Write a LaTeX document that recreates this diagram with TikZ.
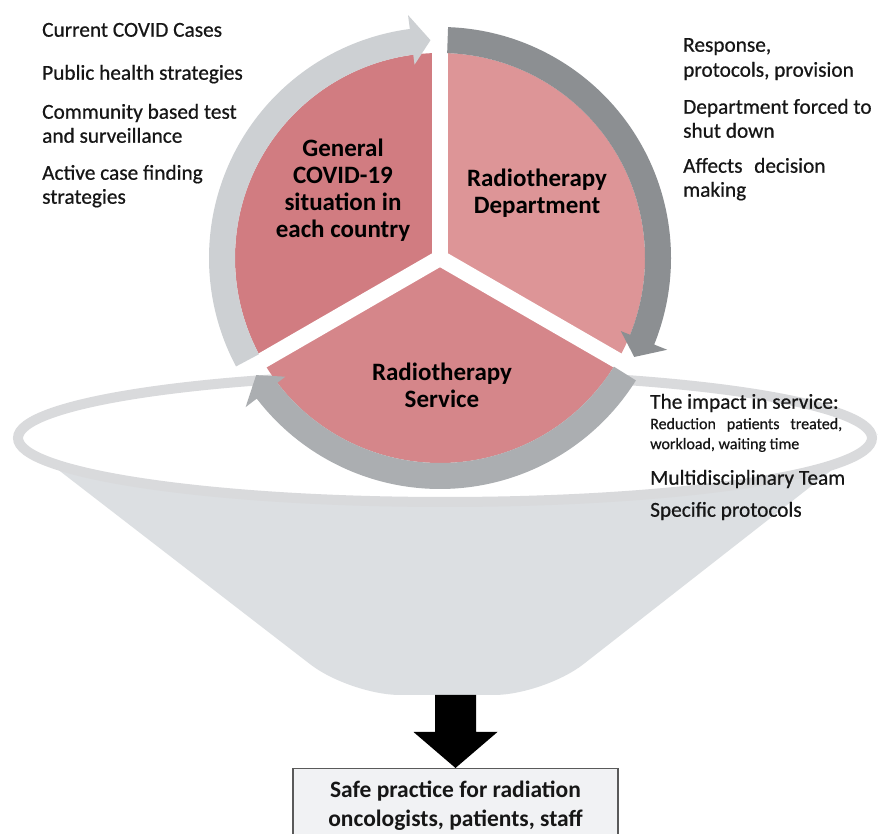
\documentclass[tikz,border=0pt]{standalone}
\usepackage{fontspec}
\setmainfont{Carlito}
\newfontfamily\sidefont{Carlito}[FakeBold=0.6]
\usetikzlibrary{calc}
\definecolor{pinkA}{HTML}{D17C81}
\definecolor{pinkB}{HTML}{DD9597}
\definecolor{pinkC}{HTML}{D5868A}
\definecolor{ringL}{HTML}{CDD0D3}
\definecolor{ringR}{HTML}{8C8F92}
\definecolor{ringB}{HTML}{ABAEB1}
\definecolor{funnelc}{HTML}{DCDFE2}
\definecolor{ellring}{HTML}{D9DADC}
\definecolor{boxfill}{HTML}{F1F2F4}
\definecolor{boxline}{HTML}{5A5A5A}
\definecolor{txt}{HTML}{161616}
\newcommand\ringarrow[4]{%
  \fill[#1] ($(C)+(#2:231)$) arc[start angle=#2, end angle=#3, radius=231]
    -- ($(C)+(#3:245)$) -- ($(C)+(#4:218)$) -- ($(C)+(#3:195)$)
    -- ($(C)+(#3:205)$) arc[start angle=#3, end angle=#2, radius=205] -- cycle;}
\begin{document}
\begin{tikzpicture}[x=1pt,y=1pt,
  side/.style={anchor=west, inner sep=0pt, text=txt,
    font=\sidefont\fontsize{21.3}{24}\selectfont, text height=13.5pt, text depth=0pt},
  sidesmall/.style={anchor=west, inner sep=0pt, text=txt,
    font=\sidefont\fontsize{16}{18}\selectfont, text height=10.3pt, text depth=0pt},
  seclabel/.style={align=center, inner sep=0pt, text=black,
    font=\bfseries\fontsize{25}{27}\selectfont},
  safebox/.style={draw=boxline, fill=boxfill, line width=1.5pt,
    minimum width=325pt, minimum height=73pt, anchor=north, inner sep=0pt,
    align=center, text=txt, font=\bfseries\fontsize{23.5}{29}\selectfont}]
\clip (0,0) rectangle (878,834);
\fill[white] (0,0) rectangle (878,834);

% funnel
\fill[funnelc] (17,396) -- (30,386) [rounded corners=50pt] -- (350,139) -- (544,139)
  -- (860,386) [sharp corners] -- (873,396) -- cycle;
\fill[white] (445,396) ellipse[x radius=427, y radius=64];
\draw[ellring, line width=10pt] (445,396) ellipse[x radius=427, y radius=64];

% circle
\coordinate (C) at (440,576);
\fill[pinkA] (C) -- ++(90:205) arc[start angle=90, end angle=210, radius=205] -- cycle;
\fill[pinkB] (C) -- ++(-30:205) arc[start angle=-30, end angle=90, radius=205] -- cycle;
\fill[pinkC] (C) -- ++(210:205) arc[start angle=210, end angle=330, radius=205] -- cycle;
\foreach \a in {90,210,330} \draw[white, line width=16pt, line cap=round] (C) -- ++(\a:212);

\ringarrow{ringL}{208}{97.5}{92.5}
\ringarrow{ringR}{88}{-22}{-27}
\ringarrow{ringB}{-32}{-142.5}{-147.5}

\node[seclabel] (gen) at (343,644) {General\\COVID-19\\situation in\\each country};
\node[seclabel] (dept) at (537,641) {Radiotherapy\\Department};
\node[seclabel] (serv) at (442,449) {Radiotherapy\\Service};

% left list
\node[side] (l1) at (42,804) {Current COVID Cases};
\node[side] (l2) at (42,761) {Public health strategies};
\node[side] (l3) at (42,722) {Community based test};
\node[side] (l4) at (42,698) {and surveillance};
\node[side] (l5) at (42,661) {Active case finding};
\node[side] (l6) at (42,637) {strategies};

% right list
\node[side] (r1) at (683,789) {Response,};
\node[side] (r2) at (683,764) {protocols, provision};
\node[side] (r3) at (683,727) {Department forced to};
\node[side] (r4) at (683,703) {shut down};
\node[side] (r5) at (683,668) {Affects\hspace{0.55em}decision};
\node[side] (r6) at (683,644) {making};

% lower right list
\node[side] (s1) at (650,432) {The impact in service:};
\node[sidesmall] (s2) at (650,410) {\makebox[192pt][s]{Reduction patients treated,}};
\node[sidesmall] (s3) at (650,390) {workload, waiting time};
\node[side] (s4) at (650,356) {Multidisciplinary Team};
\node[side] (s5) at (650,324) {Specific protocols};

% result box and arrow
\node[safebox] (safe) at (455.5,66) {Safe practice for radiation\\oncologists, patients, staff};
\fill[black] (safe.north) -- ++(-42,36) -- ++(21.5,0) -- ++(0,37) -- ++(41,0)
  -- ++(0,-37) -- ++(21.5,0) -- cycle;
\end{tikzpicture}
\end{document}
